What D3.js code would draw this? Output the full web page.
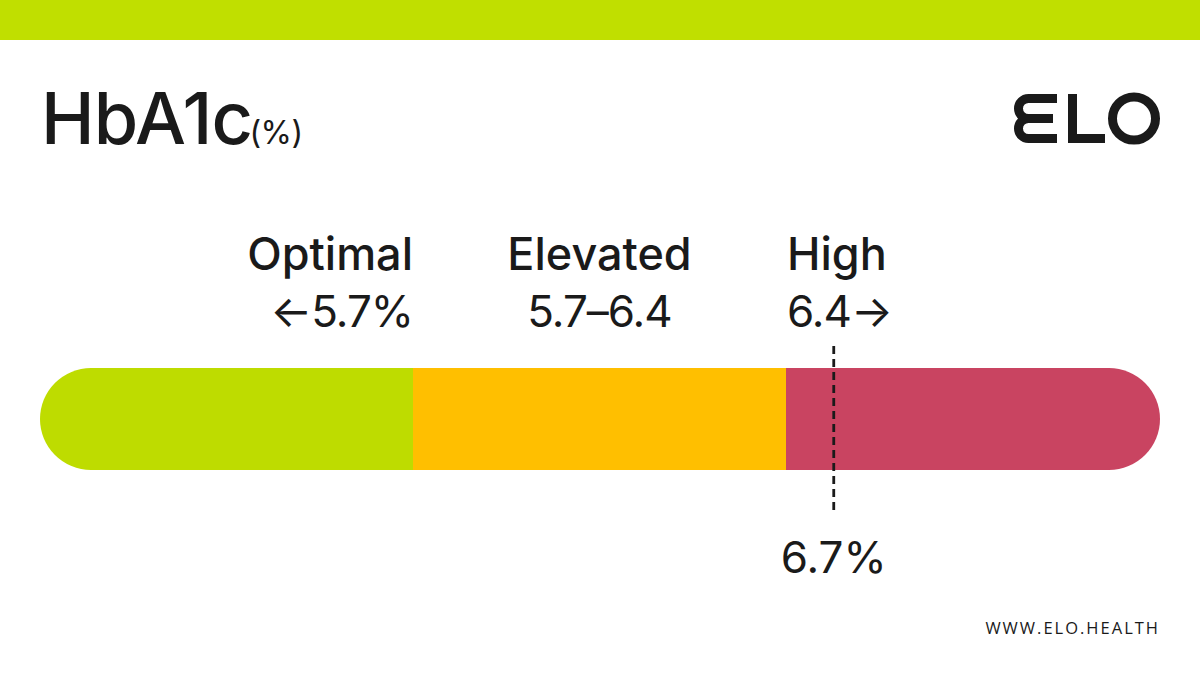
<!DOCTYPE html>
<html>
<head>
<meta charset="utf-8">
<script src="https://cdn.jsdelivr.net/npm/d3@7"></script>
<style>
  body { margin: 0; background: #fff; }
  text { font-family: Inter, "Noto Sans", sans-serif; fill: #1a1a1a; }
</style>
</head>
<body>
<svg id="chart" width="1200" height="675"></svg>
<script>
// HbA1c ranges
var bands = ['Optimal', 'Elevated', 'High'];
var rangeLabels = ['\u21905.7%', '5.7\u20136.4', '6.4\u2192'];
var cuts = [4.0, 5.7, 6.4, 8.75];   // band edges (each band drawn the same width)
var bandColors = ['#bedc00', '#ffbf00', '#c94461'];
var reading = 6.7;
var readingLabel = '6.7%';

var svg = d3.select('#chart');
var W = 1200, H = 675;

// piecewise scale, 3 equal segments
var x = d3.scaleLinear().domain(cuts).range([40, 413, 786, 1160]);

svg.append('rect').attr('x', 0).attr('y', 0).attr('width', W).attr('height', 40).attr('fill', '#c0df00');

// title
var t = svg.append('text').attr('x', 41).attr('y', 144);
t.append('tspan').attr('font-size', 72).attr('font-weight', 500).attr('letter-spacing', -0.8).text('HbA1c');
t.append('tspan').attr('font-size', 32).attr('font-weight', 400).attr('dx', -3).attr('letter-spacing', -0.5).text('(%)');

// logo
var logo = svg.append('g').attr('fill', 'none').attr('stroke', '#1a1a1a').attr('stroke-width', 9);
logo.append('path').attr('d', 'M1057,98.5 H1028.5 A10,10 0 0 0 1028.5,118.5 H1053 M1028.5,118.5 A10,10 0 0 0 1028.5,138.5 H1057');
logo.append('path').attr('d', 'M1072.5,94 V138.5 H1105');
logo.append('circle').attr('cx', 1134).attr('cy', 118.5).attr('r', 21.5);

// band labels
var anchors = ['end', 'middle', 'start'];
function labelX(i) {
  if (i == 0) return x(cuts[1]);
  if (i == 2) return x(cuts[2]) + 1;
  return (x(cuts[1]) + x(cuts[2])) / 2;
}
svg.selectAll('.band-name').data(bands).enter().append('text')
  .attr('class', 'band-name')
  .attr('x', function(d, i) { return labelX(i); })
  .attr('y', 270)
  .attr('text-anchor', function(d, i) { return anchors[i]; })
  .attr('font-size', 45).attr('font-weight', 500).attr('letter-spacing', 0)
  .text(function(d) { return d; });

svg.selectAll('.band-range').data(rangeLabels).enter().append('text')
  .attr('class', 'band-range')
  .attr('x', function(d, i) { return labelX(i); })
  .attr('y', 327)
  .attr('text-anchor', function(d, i) { return anchors[i]; })
  .attr('font-size', 44).attr('font-weight', 400).attr('letter-spacing', -1)
  .text(function(d) { return d; });

// bar
var barY = 368, barH = 102;
svg.append('clipPath').attr('id', 'pill').append('rect')
  .attr('x', x(cuts[0])).attr('y', barY)
  .attr('width', x(cuts[3]) - x(cuts[0])).attr('height', barH)
  .attr('rx', barH / 2);

svg.append('g').attr('clip-path', 'url(#pill)')
  .selectAll('rect').data(bands).enter().append('rect')
  .attr('x', function(d, i) { return x(cuts[i]); })
  .attr('y', barY)
  .attr('width', function(d, i) { return x(cuts[i + 1]) - x(cuts[i]); })
  .attr('height', barH)
  .attr('fill', function(d, i) { return bandColors[i]; });

// marker
svg.append('line')
  .attr('x1', x(reading)).attr('x2', x(reading))
  .attr('y1', 346).attr('y2', 513)
  .attr('stroke', '#1a1a1a').attr('stroke-width', 2.8)
  .attr('stroke-dasharray', '8,5');

svg.append('text').attr('x', x(reading)).attr('y', 573)
  .attr('text-anchor', 'middle').attr('font-size', 44).attr('font-weight', 400)
  .text(readingLabel);

svg.append('text').attr('x', 1160).attr('y', 634)
  .attr('text-anchor', 'end').attr('font-size', 16.5).attr('letter-spacing', 2)
  .style('font-family', '"Open Sans", sans-serif')
  .text('WWW.ELO.HEALTH');
</script>
</body>
</html>
